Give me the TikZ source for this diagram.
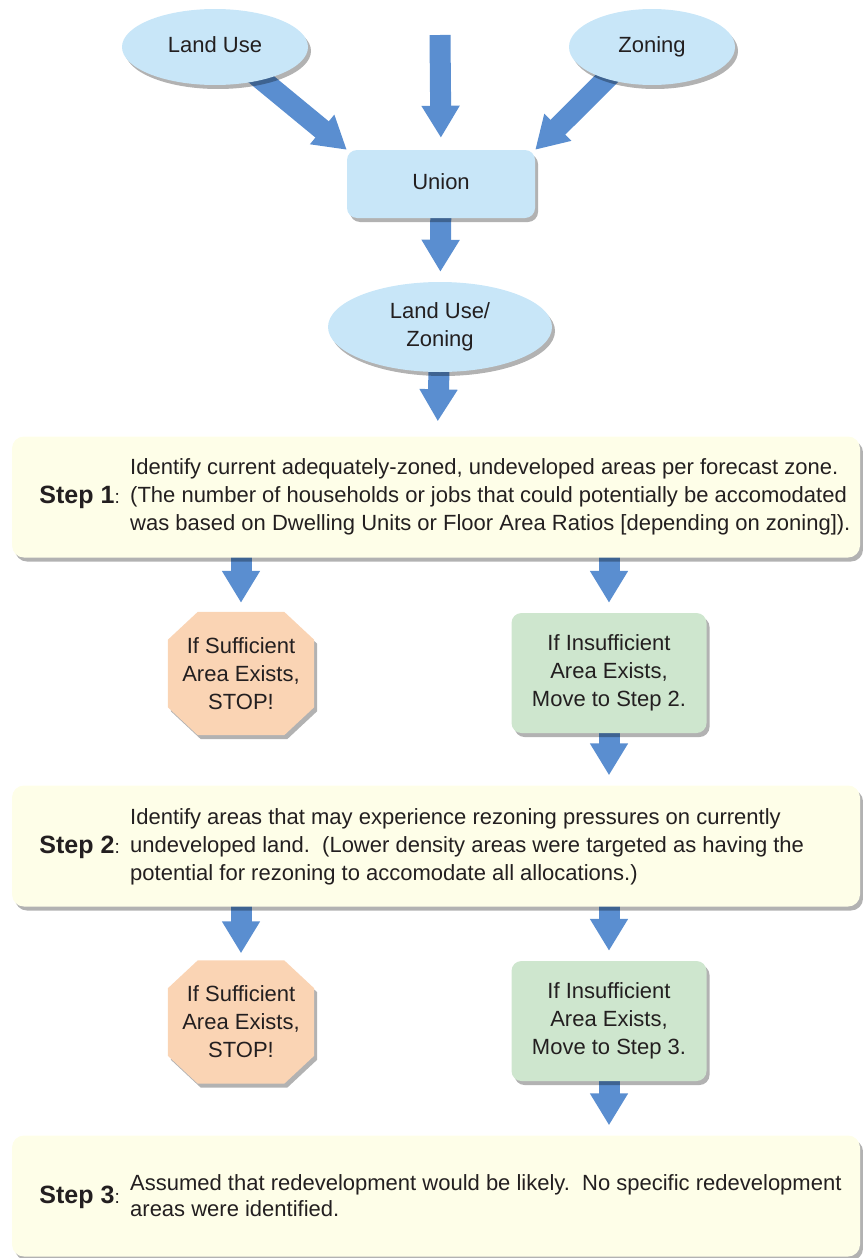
\documentclass[tikz,border=0pt]{standalone}
\usepackage{fontspec}
\setmainfont{Liberation Sans}
\usetikzlibrary{shapes.geometric,shadows,arrows.meta,calc}
\definecolor{arrowblue}{RGB}{90,142,208}
\definecolor{lightblue}{RGB}{200,230,248}
\definecolor{cream}{RGB}{254,254,232}
\definecolor{peach}{RGB}{250,212,180}
\definecolor{mint}{RGB}{206,230,206}
\definecolor{ink}{RGB}{35,31,32}
\pgfdeclarelayer{bg}
\pgfdeclarelayer{shapes}
\pgfsetlayers{bg,shapes,main}
\begin{document}
\begin{tikzpicture}[x=1pt,y=-1pt,
  font=\fontsize{22}{28}\selectfont, text=ink,
  dshadow/.style={drop shadow={shadow xshift=3pt,shadow yshift=-4pt,opacity=0.3,fill=black}},
  ovalnode/.style={ellipse, fill=lightblue, dshadow, inner sep=0pt, align=center},
  unionbox/.style={rectangle, rounded corners=10pt, fill=lightblue, dshadow, minimum width=188pt, minimum height=68pt},
  stepbox/.style={rectangle, rounded corners=12pt, fill=cream, dshadow, minimum width=848pt, minimum height=121pt},
  greenbox/.style={rectangle, rounded corners=10pt, fill=mint, dshadow, minimum width=195pt, minimum height=120pt, align=center, inner sep=0pt},
  octtext/.style={minimum width=146pt, minimum height=123pt, inner sep=0pt, align=center},
  bigarrow/.style={line width=21pt, draw=arrowblue, -{Triangle[width=36pt,length=32pt]}, shorten >=10pt, shorten <=-8pt},
  steplabel/.style={anchor=east, inner sep=0pt, font=\fontsize{25}{28}\selectfont\bfseries},
  steptext/.style={anchor=west, align=left, inner sep=0pt},
  octfill/.style={fill=peach, dshadow},
]
\useasboundingbox (0,0) rectangle (862,1258);

% top nodes
\node[ovalnode, minimum width=186pt, minimum height=76pt] (lu) at (215,47) {\strut Land Use};
\node[ovalnode, minimum width=166pt, minimum height=76pt] (zo) at (652,47) {\strut Zoning};
\node[unionbox] (un) at (441,184) {\strut Union};
\node[ovalnode, minimum width=224pt, minimum height=90pt] (luz) at (440,327) {Land Use/\\Zoning};
\coordinate (topin) at (440,35);

% step 1
\node[stepbox] (s1) at (436,497) {};
\node[steptext] (s1t) at (130,497) {Identify current adequately-zoned, undeveloped areas per forecast zone.\\(The number of households or jobs that could potentially be accomodated\\was based on Dwelling Units or Floor Area Ratios [depending on zoning]).};
\node[steplabel] (s1l) at (120,497) {Step 1{\normalfont\fontsize{19}{28}\selectfont:}};

\node[octtext] (o1) at (241,673.5) {If Sufficient\\Area Exists,\\STOP!};
\node[greenbox] (g1) at (609,673) {If Insufficient\\Area Exists,\\Move to Step 2.};

% step 2
\node[stepbox] (s2) at (436,846) {};
\node[steptext] (s2t) at (130,847) {Identify areas that may experience rezoning pressures on currently\\undeveloped land.\ \ (Lower density areas were targeted as having the\\potential for rezoning to accomodate all allocations.)};
\node[steplabel] (s2l) at (120,847) {Step 2{\normalfont\fontsize{19}{28}\selectfont:}};

\node[octtext] (o2) at (241,1022) {If Sufficient\\Area Exists,\\STOP!};
\node[greenbox] (g2) at (609,1021) {If Insufficient\\Area Exists,\\Move to Step 3.};

% step 3
\node[stepbox] (s3) at (436,1196) {};
\node[steptext] (s3t) at (130,1196) {Assumed that redevelopment would be likely.\ \ No specific redevelopment\\[-2pt]areas were identified.};
\node[steplabel] (s3l) at (120,1197) {Step 3{\normalfont\fontsize{19}{28}\selectfont:}};

% octagons
\begin{pgfonlayer}{shapes}
\foreach \o in {o1,o2}{
\fill[octfill] ($(\o.north west)+(30,0)$) -- ($(\o.north east)+(-30,0)$) -- ($(\o.north east)+(0,28)$) -- ($(\o.south east)+(0,-28)$) -- ($(\o.south east)+(-30,0)$) -- ($(\o.south west)+(30,0)$) -- ($(\o.south west)+(0,-28)$) -- ($(\o.north west)+(0,28)$) -- cycle;
}
\end{pgfonlayer}

% arrows
\begin{pgfonlayer}{bg}
\draw[bigarrow, shorten <=0pt, shorten >=12pt] (topin) -- (un.north);
\draw[bigarrow, shorten >=0pt, shorten <=-12pt] (lu.-35) -- (un.north west);
\draw[bigarrow, shorten >=0pt, shorten <=-12pt] (zo.-145) -- (un.north east);
\draw[bigarrow] (un) -- (luz);
\draw[bigarrow, shorten >=15pt] (luz) -- (s1);
\draw[bigarrow, shorten >=9pt] (s1.south -| o1) -- (o1.north);
\draw[bigarrow] (s1.south -| g1) -- (g1.north);
\draw[bigarrow] (g1.south) -- (g1.south |- s2.north);
\draw[bigarrow, shorten >=7pt] (s2.south -| o2) -- (o2.north);
\draw[bigarrow] (s2.south -| g2) -- (g2.north);
\draw[bigarrow] (g2.south) -- (g2.south |- s3.north);
\end{pgfonlayer}
\end{tikzpicture}
\end{document}
